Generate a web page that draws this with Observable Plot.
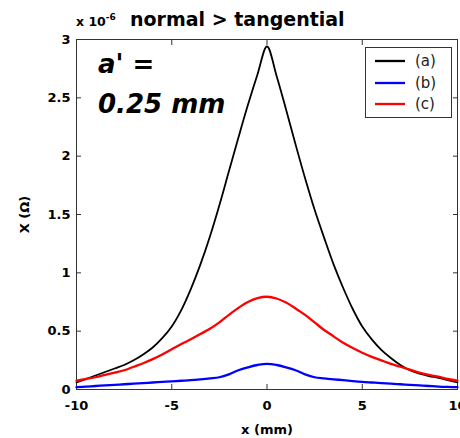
<!DOCTYPE html>
<html>
<head>
<meta charset="utf-8">
<script src="https://cdn.jsdelivr.net/npm/d3@7"></script>
<script src="https://cdn.jsdelivr.net/npm/@observablehq/plot@0.6"></script>
<style>
  html, body { margin: 0; padding: 0; background: #fff; }
  #chart { position: relative; width: 460px; height: 438px; }
</style>
</head>
<body>
<div id="chart"></div>
<script>
// x positions (mm)
const xs = [-10,-9.5,-9,-8.5,-8,-7.5,-7,-6.5,-6,-5.5,-5,-4.5,-4,-3.5,-3,-2.5,-2,-1.5,-1,-0.5,0,
            0.5,1,1.5,2,2.5,3,3.5,4,4.5,5,5.5,6,6.5,7,7.5,8,8.5,9,9.5,10];
// series values (x 10^-6 ohm)
const seriesA = [0.06,0.09,0.12,0.15,0.18,0.21,0.25,0.30,0.36,0.44,0.54,0.68,0.86,1.07,1.31,1.58,1.87,2.16,2.44,2.70,2.94,
                 2.69,2.40,2.10,1.81,1.54,1.30,1.07,0.87,0.69,0.54,0.43,0.34,0.27,0.21,0.165,0.135,0.115,0.10,0.08,0.06];
const seriesB = [0.02,0.025,0.03,0.035,0.04,0.045,0.05,0.055,0.06,0.065,0.07,0.075,0.08,0.087,0.095,0.105,0.13,0.165,0.19,0.21,0.22,
                 0.21,0.19,0.165,0.13,0.105,0.095,0.087,0.08,0.072,0.065,0.06,0.055,0.05,0.045,0.04,0.035,0.03,0.025,0.022,0.02];
const seriesC = [0.075,0.09,0.105,0.125,0.145,0.165,0.195,0.225,0.26,0.30,0.345,0.39,0.43,0.475,0.52,0.575,0.64,0.70,0.75,0.783,0.795,
                 0.78,0.745,0.695,0.64,0.575,0.51,0.455,0.40,0.355,0.315,0.28,0.25,0.22,0.195,0.17,0.145,0.125,0.11,0.09,0.077];
const seriesNames = ["(a)", "(b)", "(c)"];
const seriesColors = ["#000000", "#0000ff", "#ff0000"];
const xTicks = [-10, -5, 0, 5, 10];
const yTicks = [0, 0.5, 1, 1.5, 2, 2.5, 3];

const rows = [];
[seriesA, seriesB, seriesC].forEach((s, k) => {
  s.forEach((v, i) => rows.push({x: xs[i], y: v, s: seriesNames[k]}));
});

const font = {fontFamily: "DejaVu Sans", fontWeight: "bold", fontSize: 13};
const fmt = d => String(d);

const plot = Plot.plot({
  width: 460,
  height: 438,
  marginLeft: 76,
  marginRight: 3,
  marginTop: 39,
  marginBottom: 49,
  style: {fontFamily: "DejaVu Sans", fontSize: "13px", fontWeight: "bold", color: "#000", background: "#fff"},
  x: {domain: [-10, 10]},
  y: {domain: [0, 3]},
  color: {domain: seriesNames, range: seriesColors},
  marks: [
    Plot.frame({stroke: "#333", strokeWidth: 1}),
    Plot.axisX({anchor: "bottom", ticks: xTicks, tickFormat: fmt, tickSize: -5, tickPadding: 16, stroke: "#333",
      label: "x (mm)", labelAnchor: "center", labelArrow: "none", labelOffset: 44, ...font}),
    Plot.axisX({anchor: "top", ticks: xTicks, tickSize: -5, tickFormat: () => "", stroke: "#333", label: null}),
    Plot.axisY({anchor: "left", ticks: yTicks, tickFormat: fmt, tickSize: -5, tickPadding: 11, stroke: "#333",
      label: "X (Ω)", labelAnchor: "center", labelArrow: "none", labelOffset: 57, ...font}),
    Plot.axisY({anchor: "right", ticks: yTicks, tickSize: -5, tickFormat: () => "", stroke: "#333", label: null}),
    Plot.line(rows, {x: "x", y: "y", z: "s", stroke: "s",
      strokeWidth: d => d.s === "(a)" ? 1.8 : 2.3, curve: "catmull-rom"})
  ]
});

document.getElementById("chart").appendChild(plot);

const svg = d3.select(plot);

// title
const t = svg.append("text").attr("x", 76).attr("y", 26).attr("text-anchor", "start")
  .attr("font-family", "DejaVu Sans").attr("font-weight", "bold").attr("fill", "#000");
t.append("tspan").attr("font-size", 12.5).text("x 10");
t.append("tspan").attr("font-size", 9).attr("dy", -6).text("-6");
t.append("tspan").attr("font-size", 19).attr("x", 130).attr("dy", 6).text("normal > tangential");

// annotation
const ann = ["a' =", "0.25 mm"];
ann.forEach((s, i) => {
  svg.append("text").attr("x", 98).attr("y", i === 0 ? 73 : 113).attr("text-anchor", "start")
    .attr("font-family", "DejaVu Sans").attr("font-weight", "bold").attr("font-style", "italic")
    .attr("font-size", 26).attr("fill", "#000").text(s);
});

// legend
const lg = svg.append("g");
lg.append("rect").attr("x", 365.5).attr("y", 47.5).attr("width", 86).attr("height", 70)
  .attr("fill", "#fff").attr("stroke", "#333").attr("stroke-width", 1);
const legY = [61, 83, 104];
seriesNames.forEach((n, i) => {
  lg.append("line").attr("x1", 375).attr("x2", 405).attr("y1", legY[i]).attr("y2", legY[i])
    .attr("stroke", seriesColors[i]).attr("stroke-width", 2.3);
  lg.append("text").attr("x", 415).attr("y", legY[i] + 5).attr("text-anchor", "start")
    .attr("font-family", "DejaVu Sans").attr("font-weight", "normal")
    .attr("font-size", 15).attr("fill", "#222").text(n);
});
</script>
</body>
</html>
